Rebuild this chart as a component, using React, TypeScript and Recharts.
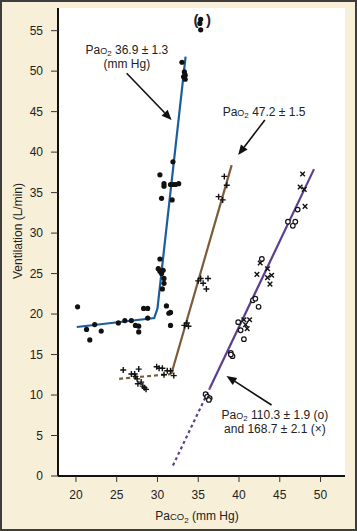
import React from "react";
import {
  CartesianGrid,
  ComposedChart,
  Line,
  ReferenceDot,
  ReferenceLine,
  Scatter,
  XAxis,
  YAxis,
} from "recharts";

const FONT = '"Liberation Sans", Arial, Helvetica, sans-serif';
const INK = "#222";

const xTicks = [20, 25, 30, 35, 40, 45, 50];
const yTicks = [0, 5, 10, 15, 20, 25, 30, 35, 40, 45, 50, 55];

type Pt = [number, number];

// PaO2 36.9 – filled dots
const lowO2Dots: Pt[] = [
  [20.2, 20.9], [21.3, 18.1], [21.7, 16.8], [22.3, 18.7], [23.1, 17.9],
  [25.2, 18.9], [26.0, 19.2], [26.8, 19.2], [27.3, 18.6], [27.7, 18.5],
  [27.7, 17.8], [28.3, 20.7], [28.8, 20.7], [28.8, 19.5],
  [30.3, 37.2], [30.5, 34.3], [30.8, 36.1], [30.8, 35.8], [30.3, 26.8],
  [30.1, 25.6], [30.3, 25.3], [30.5, 25.0], [30.7, 25.4], [30.8, 24.4],
  [30.8, 23.8], [30.6, 23.1], [31.1, 21.0], [31.4, 20.1], [31.6, 20.2],
  [31.6, 18.6], [31.8, 34.1], [31.6, 36.0], [31.9, 36.0], [32.2, 36.0],
  [32.6, 36.1], [31.9, 38.8], [33.0, 51.1], [33.3, 49.9], [33.4, 49.5],
  [33.2, 49.3], [33.4, 49.0], [35.2, 55.9], [35.3, 56.4], [35.3, 55.1],
];

// PaO2 47.2 – plus signs
const midO2Plus: Pt[] = [
  [38.2, 37.0], [38.5, 35.9], [37.5, 34.5], [38.0, 34.1],
  [35.0, 24.1], [35.3, 24.4], [36.2, 24.4], [35.6, 23.8], [36.0, 23.1],
  [33.3, 18.6], [33.6, 18.9], [33.8, 18.5],
  [25.8, 13.1], [26.8, 12.6], [27.2, 12.6], [27.3, 12.3], [27.7, 13.2],
  [27.5, 12.0], [27.6, 11.4], [28.0, 11.6], [28.2, 11.1], [28.4, 10.9],
  [28.6, 10.7], [29.9, 13.5], [30.2, 13.3], [30.6, 13.3], [30.8, 12.5],
  [31.2, 13.0], [31.6, 13.0], [32.0, 12.4],
];

// PaO2 110.3 – open circles
const highO2Circles: Pt[] = [
  [47.2, 32.9], [46.0, 31.4], [46.9, 31.4], [46.6, 30.9], [42.8, 26.8],
  [41.7, 21.7], [42.0, 21.9], [42.4, 20.9], [39.9, 19.0], [40.2, 18.0],
  [40.6, 16.9], [39.0, 15.2], [39.2, 14.8], [39.0, 15.0],
  [35.9, 10.1], [36.1, 9.8], [36.4, 9.6], [36.3, 9.4],
];

// PaO2 168.7 – crosses
const veryHighO2X: Pt[] = [
  [47.8, 37.3], [47.5, 35.7], [48.0, 35.4], [48.1, 33.3],
  [42.6, 26.3], [43.5, 25.6], [42.2, 24.9], [43.5, 24.5], [44.0, 24.8],
  [43.8, 23.7], [40.6, 19.3], [41.3, 19.3], [40.8, 18.7], [41.0, 18.2],
];

// fitted lines
const blueFit: Pt[] = [[20.1, 18.4], [29.6, 19.5], [30.0, 20.7], [33.45, 51.8]];
const brownFlat: Pt[] = [[25.3, 12.0], [31.7, 12.6]];
const brownSteep: Pt[] = [[31.7, 12.6], [39.1, 38.4]];
const purpleExtrap: Pt[] = [[31.9, 1.3], [36.4, 10.8]];
const purpleFit: Pt[] = [[36.4, 10.8], [49.2, 37.9]];

const toRows = (pts: Pt[]) => pts.map(([x, y]) => ({ x, y }));

const BLUE = "#1b5e9c";
const BROWN = "#7b5b3a";
const PURPLE = "#5c3f8c";

const DotShape = (p: any) => <circle cx={p.cx} cy={p.cy} r={2.6} fill="#111" />;
const PlusShape = (p: any) => (
  <path
    d={`M${p.cx - 3},${p.cy}H${p.cx + 3}M${p.cx},${p.cy - 3}V${p.cy + 3}`}
    stroke="#111"
    strokeWidth={1.4}
  />
);
const CrossShape = (p: any) => (
  <path
    d={`M${p.cx - 2.3},${p.cy - 2.3}L${p.cx + 2.3},${p.cy + 2.3}M${p.cx - 2.3},${p.cy + 2.3}L${p.cx + 2.3},${p.cy - 2.3}`}
    stroke="#111"
    strokeWidth={1.4}
  />
);
const RingShape = (p: any) => (
  <circle cx={p.cx} cy={p.cy} r={2.3} fill="#fff" stroke="#111" strokeWidth={1.2} />
);

const Arrow = (p: any) => {
  const { x1, y1, x2, y2 } = p;
  const a = Math.atan2(y2 - y1, x2 - x1);
  const L = 10;
  const W = 4.2;
  const bx = x2 - L * Math.cos(a);
  const by = y2 - L * Math.sin(a);
  const px = -Math.sin(a) * W;
  const py = Math.cos(a) * W;
  return (
    <g>
      <line x1={x1} y1={y1} x2={bx} y2={by} stroke="#111" strokeWidth={1.6} />
      <polygon points={`${x2},${y2} ${bx + px},${by + py} ${bx - px},${by - py}`} fill="#111" />
    </g>
  );
};

const PaO2 = ({ rest }: { rest: string }) => (
  <>
    Pa<tspan fontSize={9}>O</tspan>
    <tspan fontSize={8} dy={2.5}>2</tspan>
    <tspan dy={-2.5}>{rest}</tspan>
  </>
);

const noteStyle = { fontFamily: FONT, fontSize: 12, fill: INK };

const Note1 = (p: any) => (
  <g>
    <text x={p.cx} y={p.cy} textAnchor="middle" {...noteStyle}>
      <PaO2 rest={"\u00a036.9 ± 1.3"} />
    </text>
    <text x={p.cx} y={p.cy + 14} textAnchor="middle" {...noteStyle}>
      (mm Hg)
    </text>
  </g>
);

const Note2 = (p: any) => (
  <text x={p.cx} y={p.cy} textAnchor="middle" {...noteStyle}>
    <PaO2 rest={"\u00a047.2 ± 1.5"} />
  </text>
);

const Note3 = (p: any) => (
  <g>
    <text x={p.cx} y={p.cy} textAnchor="middle" {...noteStyle}>
      <PaO2 rest={"\u00a0110.3 ± 1.9 (o)"} />
    </text>
    <text x={p.cx} y={p.cy + 14} textAnchor="middle" {...noteStyle}>
      and 168.7 ± 2.1 (×)
    </text>
  </g>
);

const Parens = (p: any) => (
  <g>
    <text x={p.cx - 6} y={p.cy} textAnchor="middle" fontFamily={FONT} fontSize={15} fontWeight="bold" fill={INK}>
      (
    </text>
    <text x={p.cx + 6.5} y={p.cy} textAnchor="middle" fontFamily={FONT} fontSize={15} fontWeight="bold" fill={INK}>
      )
    </text>
  </g>
);

const YLabel = () => (
  <text transform="translate(22,231) rotate(-90)" x={0} y={0} textAnchor="middle" {...noteStyle}>
    Ventilation (L/min)
  </text>
);

const XLabel = () => (
  <text x={197} y={520} textAnchor="middle" {...noteStyle}>
    Pa<tspan fontSize={9.5}>CO</tspan>
    <tspan fontSize={8} dy={2.5}>2</tspan>
    <tspan dy={-2.5}>{"\u00a0(mm Hg)"}</tspan>
  </text>
);

export default function App() {
  return (
    <div
      style={{
        position: "absolute",
        left: 0,
        top: 0,
        width: 357,
        height: 531,
        background: "#f7efd8",
        boxShadow: "inset 0 0 0 2px #3d3d3d",
      }}
    >
      <ComposedChart width={357} height={531} margin={{ top: 8, right: 12, bottom: 0, left: 0 }}>
        <CartesianGrid horizontal={false} vertical={false} fill="#ffffff" />
        <XAxis
          type="number"
          dataKey="x"
          domain={[17.8, 53]}
          ticks={xTicks}
          allowDataOverflow
          height={55}
          tickSize={6}
          tickMargin={8}
          tick={{ fill: INK, fontSize: 12, fontFamily: FONT }}
          tickLine={{ stroke: "#333" }}
          axisLine={{ stroke: "#111", strokeWidth: 2 }}
          label={{ content: XLabel }}
        />
        <YAxis
          type="number"
          dataKey="y"
          domain={[0, 57.8]}
          ticks={yTicks}
          interval={0}
          allowDataOverflow
          width={58}
          tickSize={7}
          tickMargin={8}
          tick={{ fill: INK, fontSize: 12, fontFamily: FONT }}
          tickLine={{ stroke: "#333" }}
          axisLine={{ stroke: "#111", strokeWidth: 2 }}
          label={{ content: YLabel }}
        />

        <Line data={toRows(blueFit)} dataKey="y" stroke={BLUE} strokeWidth={2.2} dot={false} activeDot={false} isAnimationActive={false} />
        <Line data={toRows(brownFlat)} dataKey="y" stroke={BROWN} strokeWidth={2.2} strokeDasharray="4 3" dot={false} activeDot={false} isAnimationActive={false} />
        <Line data={toRows(brownSteep)} dataKey="y" stroke={BROWN} strokeWidth={2.2} dot={false} activeDot={false} isAnimationActive={false} />
        <Line data={toRows(purpleExtrap)} dataKey="y" stroke={PURPLE} strokeWidth={2.2} strokeDasharray="3 3" dot={false} activeDot={false} isAnimationActive={false} />
        <Line data={toRows(purpleFit)} dataKey="y" stroke={PURPLE} strokeWidth={2.2} dot={false} activeDot={false} isAnimationActive={false} />

        <Scatter data={toRows(lowO2Dots)} dataKey="y" shape={DotShape} isAnimationActive={false} />
        <Scatter data={toRows(midO2Plus)} dataKey="y" shape={PlusShape} isAnimationActive={false} />
        <Scatter data={toRows(highO2Circles)} dataKey="y" shape={RingShape} isAnimationActive={false} />
        <Scatter data={toRows(veryHighO2X)} dataKey="y" shape={CrossShape} isAnimationActive={false} />

        <ReferenceLine segment={[{ x: 26.22, y: 49.75 }, { x: 31.73, y: 43.97 }]} shape={Arrow} />
        <ReferenceLine segment={[{ x: 43.17, y: 43.97 }, { x: 39.9, y: 39.65 }]} shape={Arrow} />
        <ReferenceLine segment={[{ x: 43.99, y: 8.77 }, { x: 38.47, y: 12.35 }]} shape={Arrow} />

        <ReferenceDot x={26.25} y={52.15} r={0} shape={Note1} />
        <ReferenceDot x={43.07} y={44.5} r={0} shape={Note2} />
        <ReferenceDot x={44.4} y={7.1} r={0} shape={Note3} />
        <ReferenceDot x={35.45} y={55.7} r={0} shape={Parens} />
      </ComposedChart>
    </div>
  );
}
